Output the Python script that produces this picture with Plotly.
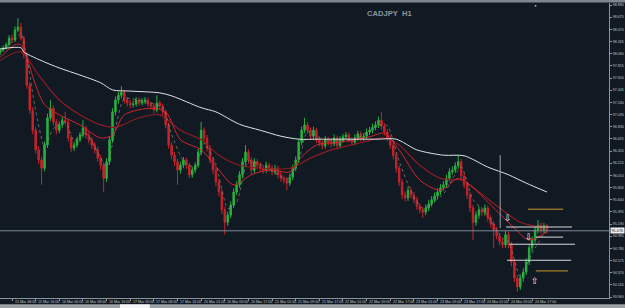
import plotly.graph_objects as go

# ---------------- data ----------------
open_ = [
98.08, 98.12, 98.16, 98.21, 98.32, 98.29, 98.46, 98.51, 98.32, 98.04,
97.53, 97.11, 96.77, 96.44, 96.27, 96.13, 96.52, 96.98, 97.14, 96.91,
96.77, 96.86, 96.94, 96.91, 96.64, 96.47, 96.52, 96.61, 96.69, 96.81,
96.69, 96.61, 96.52, 96.44, 96.30, 96.18, 95.96, 96.24, 96.61, 97.08,
97.28, 97.36, 97.41, 97.28, 97.23, 97.20, 97.21, 97.28, 97.23, 97.26,
97.28, 97.21, 97.18, 97.11, 97.23, 97.18, 97.08, 96.86, 96.52, 96.35,
96.24, 96.10, 96.18, 96.27, 96.18, 96.02, 96.10, 96.18, 96.40, 96.77,
96.64, 96.47, 96.27, 96.10, 95.90, 95.73, 95.43, 95.22, 95.34, 95.51,
95.73, 95.85, 96.02, 96.24, 96.40, 96.27, 96.10, 96.24, 96.18, 96.13,
96.10, 96.18, 96.13, 96.07, 96.13, 96.02, 95.96, 95.93, 95.88, 95.98,
96.13, 96.27, 96.57, 96.77, 96.86, 96.77, 96.67, 96.77, 96.61, 96.56,
96.51, 96.61, 96.57, 96.54, 96.64, 96.51, 96.61, 96.66, 96.69, 96.61,
96.57, 96.64, 96.71, 96.64, 96.67, 96.74, 96.77, 96.82, 96.86, 96.94,
96.84, 96.74, 96.64, 96.52, 96.35, 96.13, 95.90, 95.68, 95.63, 95.76,
95.68, 95.60, 95.49, 95.43, 95.39, 95.46, 95.53, 95.60, 95.66, 95.73,
95.80, 95.85, 95.96, 96.07, 96.10, 96.17, 96.24, 96.00, 95.85, 95.68,
95.46, 95.22, 95.34, 95.43, 95.39, 95.46, 95.29, 95.19, 95.09, 94.99,
94.89, 94.84, 95.01, 94.84, 94.55, 94.28, 94.13, 94.28, 94.38, 94.55,
94.79, 94.92, 95.09, 95.17, 95.09, 95.16]

high = [
98.16, 98.20, 98.25, 98.37, 98.38, 98.52, 98.66, 98.58, 98.36, 98.08,
97.58, 97.16, 96.82, 96.50, 96.33, 96.58, 97.05, 97.28, 97.19, 96.96,
96.92, 96.99, 97.08, 96.95, 96.69, 96.58, 96.66, 96.74, 96.94, 96.85,
96.74, 96.66, 96.57, 96.49, 96.35, 96.23, 96.30, 96.67, 97.14, 97.34,
97.42, 97.51, 97.45, 97.33, 97.28, 97.27, 97.33, 97.32, 97.31, 97.33,
97.32, 97.25, 97.22, 97.36, 97.27, 97.22, 97.12, 96.90, 96.57, 96.40,
96.29, 96.24, 96.32, 96.31, 96.22, 96.15, 96.23, 96.46, 96.91, 96.82,
96.69, 96.52, 96.32, 96.15, 95.95, 95.78, 95.48, 95.40, 95.57, 95.79,
95.91, 96.08, 96.30, 96.52, 96.45, 96.32, 96.30, 96.29, 96.23, 96.18,
96.24, 96.22, 96.18, 96.19, 96.17, 96.07, 96.01, 95.98, 96.04, 96.19,
96.33, 96.63, 96.83, 96.98, 96.91, 96.82, 96.83, 96.81, 96.66, 96.60,
96.67, 96.66, 96.62, 96.70, 96.68, 96.67, 96.71, 96.74, 96.73, 96.65,
96.70, 96.76, 96.75, 96.72, 96.80, 96.83, 96.88, 96.92, 97.00, 97.08,
96.89, 96.79, 96.69, 96.57, 96.40, 96.18, 95.95, 95.74, 95.82, 95.81,
95.73, 95.65, 95.54, 95.48, 95.52, 95.59, 95.66, 95.72, 95.79, 95.86,
95.91, 96.02, 96.13, 96.16, 96.23, 96.35, 96.29, 96.05, 95.90, 95.73,
95.51, 95.40, 95.49, 95.48, 95.52, 95.50, 95.34, 95.24, 95.14, 95.04,
94.94, 95.07, 95.06, 94.89, 94.60, 94.33, 94.34, 94.44, 94.61, 94.85,
94.98, 95.15, 95.26, 95.22, 95.21, 95.19]

low = [
98.04, 98.09, 98.13, 98.18, 98.24, 98.26, 98.42, 98.28, 97.98, 97.47,
97.05, 96.70, 96.38, 96.20, 95.85, 96.08, 96.47, 96.93, 96.85, 96.70,
96.72, 96.81, 96.86, 96.58, 96.40, 96.42, 96.48, 96.57, 96.65, 96.63,
96.55, 96.46, 96.38, 96.24, 96.10, 95.73, 95.90, 96.19, 96.56, 97.02,
97.22, 97.31, 97.22, 97.17, 97.14, 97.15, 97.17, 97.18, 97.19, 97.21,
97.16, 97.12, 97.05, 97.07, 97.13, 97.02, 96.80, 96.46, 96.28, 96.17,
95.85, 96.04, 96.13, 96.12, 95.96, 95.97, 96.05, 96.14, 96.35, 96.58,
96.41, 96.21, 96.03, 95.83, 95.66, 95.36, 95.01, 95.16, 95.29, 95.46,
95.68, 95.80, 95.97, 96.19, 96.21, 96.03, 96.05, 96.12, 96.07, 96.04,
96.05, 96.07, 96.01, 96.02, 95.96, 95.90, 95.87, 95.76, 95.83, 95.93,
96.08, 96.22, 96.52, 96.72, 96.71, 96.61, 96.62, 96.55, 96.50, 96.45,
96.46, 96.51, 96.48, 96.50, 96.45, 96.46, 96.56, 96.61, 96.56, 96.51,
96.52, 96.59, 96.58, 96.59, 96.62, 96.69, 96.72, 96.77, 96.81, 96.78,
96.68, 96.58, 96.46, 96.28, 96.06, 95.83, 95.61, 95.57, 95.58, 95.62,
95.54, 95.43, 95.37, 95.29, 95.34, 95.41, 95.48, 95.55, 95.61, 95.68,
95.75, 95.80, 95.91, 96.02, 96.05, 96.12, 95.94, 95.79, 95.61, 95.39,
94.92, 95.16, 95.28, 95.33, 95.33, 95.23, 95.13, 94.79, 94.93, 94.83,
94.78, 94.79, 94.78, 94.48, 94.21, 94.05, 94.08, 94.22, 94.33, 94.50,
94.73, 94.87, 95.03, 95.03, 95.04, 95.03]

close = [
98.12, 98.16, 98.21, 98.32, 98.29, 98.46, 98.51, 98.32, 98.04, 97.53,
97.11, 96.77, 96.44, 96.27, 96.13, 96.52, 96.98, 97.14, 96.91, 96.77,
96.86, 96.94, 96.91, 96.64, 96.47, 96.52, 96.61, 96.69, 96.81, 96.69,
96.61, 96.52, 96.44, 96.30, 96.18, 95.96, 96.24, 96.61, 97.08, 97.28,
97.36, 97.41, 97.28, 97.23, 97.20, 97.21, 97.28, 97.23, 97.26, 97.28,
97.21, 97.18, 97.11, 97.23, 97.18, 97.08, 96.86, 96.52, 96.35, 96.24,
96.10, 96.18, 96.27, 96.18, 96.02, 96.10, 96.18, 96.40, 96.77, 96.64,
96.47, 96.27, 96.10, 95.90, 95.73, 95.43, 95.22, 95.34, 95.51, 95.73,
95.85, 96.02, 96.24, 96.40, 96.27, 96.10, 96.24, 96.18, 96.13, 96.10,
96.18, 96.13, 96.07, 96.13, 96.02, 95.96, 95.93, 95.88, 95.98, 96.13,
96.27, 96.57, 96.77, 96.86, 96.77, 96.67, 96.77, 96.61, 96.56, 96.51,
96.61, 96.57, 96.54, 96.64, 96.51, 96.61, 96.66, 96.69, 96.61, 96.57,
96.64, 96.71, 96.64, 96.67, 96.74, 96.77, 96.82, 96.86, 96.94, 96.84,
96.74, 96.64, 96.52, 96.35, 96.13, 95.90, 95.68, 95.63, 95.76, 95.68,
95.60, 95.49, 95.43, 95.39, 95.46, 95.53, 95.60, 95.66, 95.73, 95.80,
95.85, 95.96, 96.07, 96.10, 96.17, 96.24, 96.00, 95.85, 95.68, 95.46,
95.22, 95.34, 95.43, 95.39, 95.46, 95.29, 95.19, 95.09, 94.99, 94.89,
94.84, 95.01, 94.84, 94.55, 94.28, 94.13, 94.28, 94.38, 94.55, 94.79,
94.92, 95.09, 95.17, 95.09, 95.16, 95.08]

# moving averages, read as knots (bar number, price)
ma_long_bar = [0, 7, 8, 15, 20, 27, 34, 38, 44, 54, 58, 68, 73, 81, 88, 95, 101, 108, 122, 128, 134, 141, 150, 157, 165, 172, 178, 185]
ma_long_val = [98.14, 98.16, 98.09, 97.92, 97.82, 97.70, 97.57, 97.45, 97.43, 97.40, 97.35, 97.15, 97.08, 96.87, 96.77, 96.67, 96.62, 96.62, 96.62, 96.62, 96.62, 96.44, 96.35, 96.34, 96.15, 96.02, 95.88, 95.73]

ma_mid_bar = [0, 5, 7, 12, 15, 20, 27, 34, 38, 42, 51, 56, 61, 68, 74, 79, 85, 91, 98, 101, 107, 115, 125, 130, 135, 142, 149, 155, 159, 166, 173, 179, 185]
ma_mid_val = [98.00, 98.21, 98.21, 97.53, 97.20, 97.03, 96.86, 96.64, 96.69, 97.03, 97.14, 97.08, 96.61, 96.44, 96.10, 95.85, 96.02, 96.10, 96.07, 96.27, 96.52, 96.57, 96.66, 96.72, 96.44, 95.93, 95.76, 95.96, 95.85, 95.51, 95.17, 94.92, 95.06]

ma_slow_bar = [0, 7, 13, 20, 27, 34, 39, 47, 54, 61, 68, 74, 81, 88, 98, 105, 112, 122, 130, 135, 142, 149, 156, 162, 169, 176, 185]
ma_slow_val = [97.95, 98.09, 97.70, 97.28, 97.03, 96.86, 96.82, 96.98, 97.03, 96.77, 96.61, 96.35, 96.18, 96.13, 96.13, 96.30, 96.44, 96.56, 96.64, 96.52, 96.18, 95.96, 95.93, 95.73, 95.46, 95.22, 95.12]

ma_fast_bar = [0, 5, 7, 9, 12, 15, 18, 22, 25, 29, 33, 36, 39, 42, 50, 55, 58, 62, 66, 69, 73, 77, 80, 84, 90, 97, 101, 104, 110, 120, 128, 131, 135, 139, 143, 150, 156, 160, 164, 170, 172, 176, 180, 185]
ma_fast_val = [98.10, 98.30, 98.40, 98.00, 97.10, 96.50, 96.80, 96.90, 96.60, 96.72, 96.40, 96.15, 96.80, 97.30, 97.24, 97.15, 96.70, 96.25, 96.15, 96.55, 96.20, 95.45, 95.55, 96.25, 96.15, 95.95, 96.25, 96.75, 96.60, 96.62, 96.85, 96.85, 96.25, 95.75, 95.45, 95.70, 96.15, 95.60, 95.40, 94.95, 94.90, 94.30, 94.70, 95.10]

# horizontal levels drawn on the right part (price, from bar, to bar, kind)
level_price = [95.44, 95.14, 94.97, 94.85, 94.58, 94.40]
level_from = [178.6, 171.2, 181.3, 172.2, 171.5, 181.3]
level_to = [190.5, 193.5, 190.5, 194.5, 193.2, 192.2]
level_kind = ["gold", "white", "white", "white", "white", "gold"]

# arrow signals (bar, price, direction)
arrow_bar = [171.8, 179.0, 181.0]
arrow_price = [95.29, 94.97, 94.23]
arrow_dir = ["down", "down", "up"]

# vertical marker line (bar, from price, to price)
vline_bar = 169.2
vline_prices = [95.12, 96.35]

last_price = 95.076

x_tick_bars = [4, 12, 20, 28, 36, 44, 52, 60, 68, 76, 84, 92, 100, 108, 116, 124, 132, 140, 148, 156, 164, 172, 180]
x_tick_text = ["15 Mar 08:00", "15 Mar 16:00", "16 Mar 00:00", "16 Mar 08:00", "16 Mar 16:00",
               "17 Mar 00:00", "17 Mar 08:00", "17 Mar 16:00", "20 Mar 01:00", "20 Mar 09:00",
               "20 Mar 17:00", "21 Mar 01:00", "21 Mar 09:00", "21 Mar 17:00", "22 Mar 01:00",
               "22 Mar 09:00", "22 Mar 17:00", "23 Mar 01:00", "23 Mar 09:00", "23 Mar 17:00",
               "24 Mar 01:00", "24 Mar 09:00", "24 Mar 17:00"]

y_tick_vals = [98.880, 98.675, 98.470, 98.265, 98.060, 97.855, 97.650, 97.445, 97.240, 97.035,
               96.830, 96.625, 96.420, 96.215, 96.010, 95.805, 95.600, 95.395, 95.190, 94.985,
               94.780, 94.575, 94.370, 94.165, 93.960]
y_tick_text = ["%.3f" % v for v in y_tick_vals]

# ---------------- figure ----------------
BG = "#111923"
GREEN = "#27b23f"
RED = "#c8232b"
AXIS = "#8a939c"
TXT = "#c4c8cc"

bars = list(range(len(close)))

fig = go.Figure()
fig.add_trace(go.Candlestick(
    x=bars, open=open_, high=high, low=low, close=close,
    increasing=dict(line=dict(color=GREEN, width=1), fillcolor=GREEN),
    decreasing=dict(line=dict(color=RED, width=1), fillcolor=RED),
    whiskerwidth=0, showlegend=False, hoverinfo="skip"))

fig.add_trace(go.Scatter(x=ma_slow_bar, y=ma_slow_val, mode="lines",
                         line=dict(color="#8e1c22", width=1.2, shape="spline", smoothing=0.8),
                         showlegend=False, hoverinfo="skip"))
fig.add_trace(go.Scatter(x=ma_mid_bar, y=ma_mid_val, mode="lines",
                         line=dict(color="#d2262e", width=1, shape="spline", smoothing=0.8),
                         showlegend=False, hoverinfo="skip"))
fig.add_trace(go.Scatter(x=ma_fast_bar, y=ma_fast_val, mode="lines",
                         line=dict(color="#7f8f7c", width=0.7, dash="dot", shape="spline", smoothing=0.6),
                         showlegend=False, hoverinfo="skip"))
fig.add_trace(go.Scatter(x=ma_long_bar, y=ma_long_val, mode="lines",
                         line=dict(color="#dfe3e6", width=1, shape="spline", smoothing=0.8),
                         showlegend=False, hoverinfo="skip"))

level_color = {"gold": "#c99a2e", "white": "#d6dade"}
for p, a, b, k in zip(level_price, level_from, level_to, level_kind):
    fig.add_trace(go.Scatter(x=[a, b], y=[p, p], mode="lines",
                             line=dict(color=level_color[k], width=1),
                             showlegend=False, hoverinfo="skip"))

fig.add_trace(go.Scatter(x=[vline_bar, vline_bar], y=vline_prices, mode="lines",
                         line=dict(color="#9aa4ae", width=1), showlegend=False, hoverinfo="skip"))

arrow_glyph = {"down": "\u21e9", "up": "\u21e7"}
for b, p, d in zip(arrow_bar, arrow_price, arrow_dir):
    fig.add_annotation(x=b, y=p, text=arrow_glyph[d], showarrow=False,
                       font=dict(family="DejaVu Sans", size=9, color="#f0f0f0"))

# time labels under the axis, left-aligned on their tick (terminal style)
for b, t in zip(x_tick_bars, x_tick_text):
    fig.add_annotation(x=b, xref="x", y=-0.0135, yref="paper", text=t, showarrow=False,
                       xanchor="left", yanchor="middle", xshift=0.5,
                       font=dict(family="Liberation Sans", size=3.6, color=TXT))

# current price line
fig.add_shape(type="line", xref="paper", yref="y", x0=0, x1=1, y0=last_price, y1=last_price,
              line=dict(color="#7d8b9b", width=1))

# price tag on the axis
fig.add_annotation(xref="paper", yref="y", x=1.0, y=last_price, xanchor="left", xshift=1,
                   text="95.076", showarrow=False, bgcolor="#eceeef", borderpad=0.5,
                   font=dict(family="Liberation Sans", size=3.8, color="#101010"))

# title
fig.add_annotation(xref="paper", yref="paper", x=0.640, y=0.987, text="<b>CADJPY\u00a0\u00a0H1</b>",
                   showarrow=False, font=dict(family="Liberation Sans", size=7.6, color="#8f969d"))

# window chrome: top bar, bottom strip with tab, small top marker
fig.add_shape(type="rect", xref="paper", yref="paper", x0=-0.01, x1=1.03, y0=1.0015, y1=1.012,
              line=dict(width=0), fillcolor="#80868d")
fig.add_shape(type="rect", xref="paper", yref="paper", x0=-0.01, x1=1.03, y0=-0.036, y1=-0.0215,
              line=dict(width=0), fillcolor="#9ca1a6")
fig.add_shape(type="rect", xref="paper", yref="paper", x0=0.197, x1=0.246, y0=-0.036, y1=-0.0215,
              line=dict(width=0), fillcolor="#f4f5f6")
fig.add_annotation(xref="paper", yref="paper", x=0.885, y=1.004, text="\u25bc", showarrow=False,
                   font=dict(size=3, color="#e8e8e8"))

fig.update_layout(
    width=625, height=308,
    margin=dict(l=0, r=16, t=3, b=10, autoexpand=False),
    paper_bgcolor=BG, plot_bgcolor=BG,
    showlegend=False,
    xaxis=dict(range=[-0.07, 206.02], rangeslider=dict(visible=False), showgrid=False, zeroline=False,
               automargin=False,
               tickmode="array", tickvals=x_tick_bars, showticklabels=False,
               ticks="outside", ticklen=2, tickcolor=AXIS,
               showline=True, linecolor=AXIS, linewidth=1),
    yaxis=dict(range=[93.944, 98.914], side="right", showgrid=False, zeroline=False,
               automargin=False,
               tickmode="array", tickvals=y_tick_vals, ticktext=y_tick_text,
               ticks="outside", ticklen=2, tickcolor=AXIS,
               tickfont=dict(family="Liberation Sans", size=3.6, color=TXT),
               showline=True, linecolor=AXIS, linewidth=1),
)

fig.write_html("out.html")
